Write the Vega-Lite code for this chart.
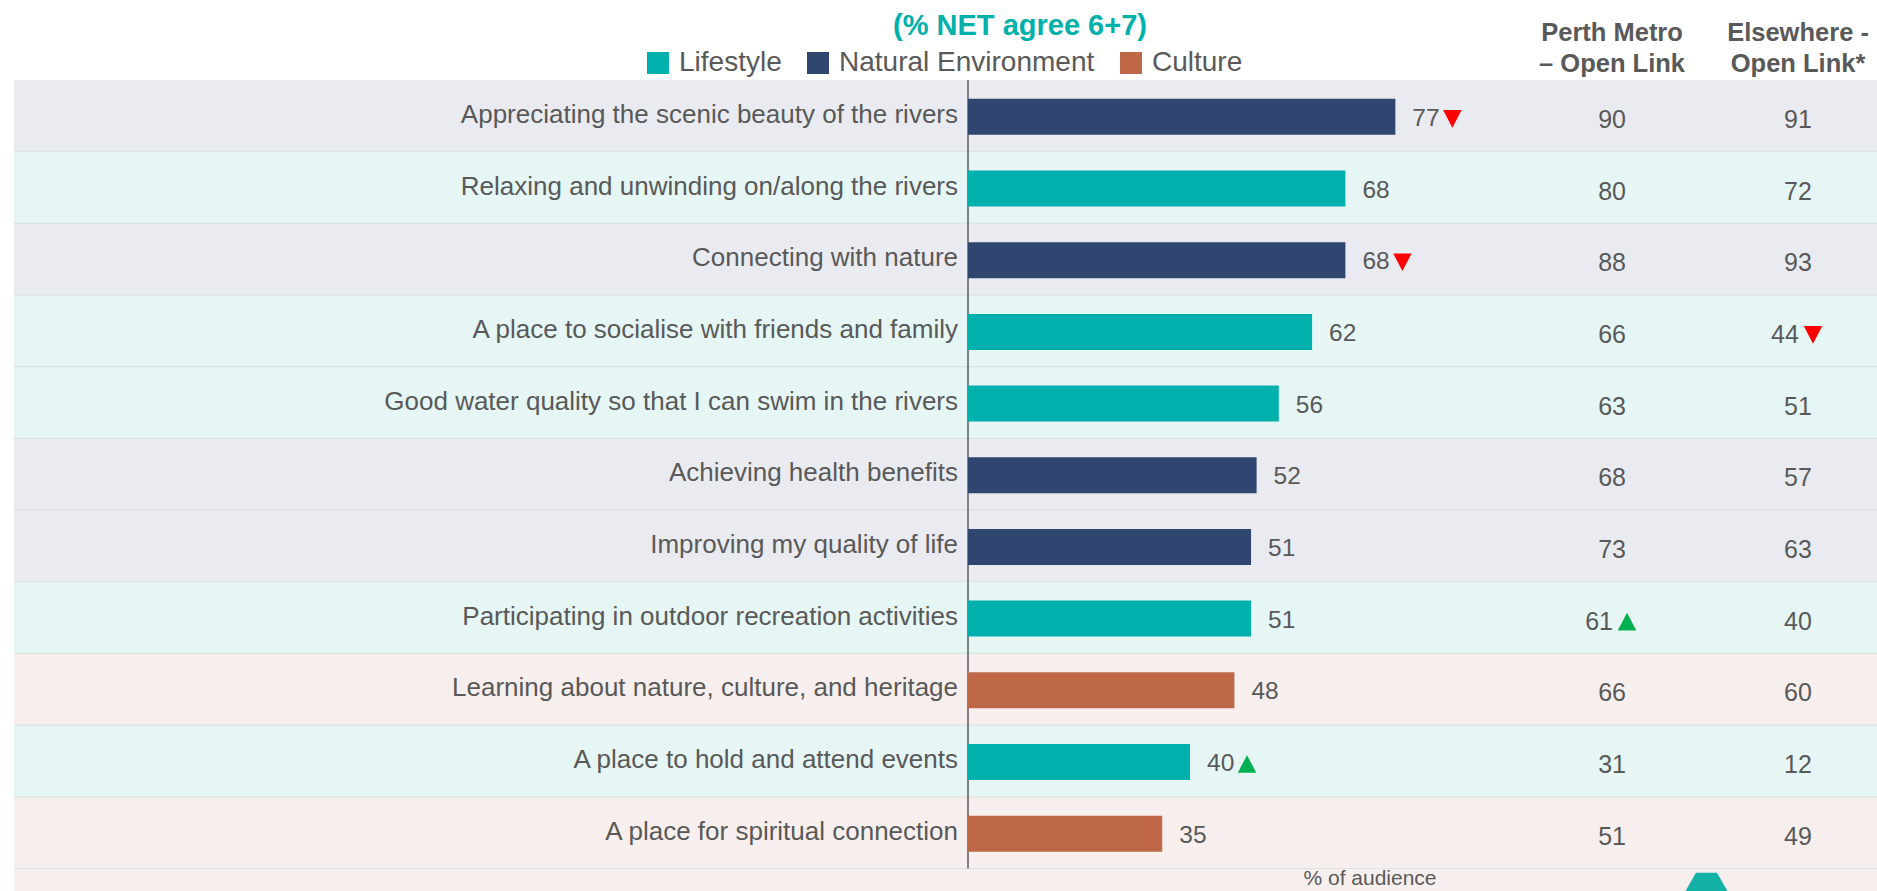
{
  "$schema": "https://vega.github.io/schema/vega-lite/v6.json",
  "width": 1877,
  "height": 891,
  "autosize": {"type": "none"},
  "padding": 0,
  "background": "#FFFFFF",
  "config": {"view": {"stroke": null}, "font": "Liberation Sans", "scale": {"continuousPadding": 0}},
  "datasets": {
    "rows": [
      {"row": 1, "label": "Appreciating the scenic beauty of the rivers", "group": "Natural Environment", "value": 77, "sig": "down", "perth": 90, "perth_sig": null, "elsewhere": 91, "elsewhere_sig": null},
      {"row": 2, "label": "Relaxing and unwinding on/along the rivers", "group": "Lifestyle", "value": 68, "sig": null, "perth": 80, "perth_sig": null, "elsewhere": 72, "elsewhere_sig": null},
      {"row": 3, "label": "Connecting with nature", "group": "Natural Environment", "value": 68, "sig": "down", "perth": 88, "perth_sig": null, "elsewhere": 93, "elsewhere_sig": null},
      {"row": 4, "label": "A place to socialise with friends and family", "group": "Lifestyle", "value": 62, "sig": null, "perth": 66, "perth_sig": null, "elsewhere": 44, "elsewhere_sig": "down"},
      {"row": 5, "label": "Good water quality so that I can swim in the rivers", "group": "Lifestyle", "value": 56, "sig": null, "perth": 63, "perth_sig": null, "elsewhere": 51, "elsewhere_sig": null},
      {"row": 6, "label": "Achieving health benefits", "group": "Natural Environment", "value": 52, "sig": null, "perth": 68, "perth_sig": null, "elsewhere": 57, "elsewhere_sig": null},
      {"row": 7, "label": "Improving my quality of life", "group": "Natural Environment", "value": 51, "sig": null, "perth": 73, "perth_sig": null, "elsewhere": 63, "elsewhere_sig": null},
      {"row": 8, "label": "Participating in outdoor recreation activities", "group": "Lifestyle", "value": 51, "sig": null, "perth": 61, "perth_sig": "up", "elsewhere": 40, "elsewhere_sig": null},
      {"row": 9, "label": "Learning about nature, culture, and heritage", "group": "Culture", "value": 48, "sig": null, "perth": 66, "perth_sig": null, "elsewhere": 60, "elsewhere_sig": null},
      {"row": 10, "label": "A place to hold and attend events", "group": "Lifestyle", "value": 40, "sig": "up", "perth": 31, "perth_sig": null, "elsewhere": 12, "elsewhere_sig": null},
      {"row": 11, "label": "A place for spiritual connection", "group": "Culture", "value": 35, "sig": null, "perth": 51, "perth_sig": null, "elsewhere": 49, "elsewhere_sig": null}
    ],
    "headers": [
      {"col": "perth", "header": "Perth Metro\n– Open Link"},
      {"col": "elsewhere", "header": "Elsewhere -\nOpen Link*"}
    ],
    "notes": [
      {"title": "(% NET agree 6+7)", "axisnote": "% of audience"}
    ]
  },
  "data": {"name": "rows"},
  "resolve": {"scale": {"color": "independent", "shape": "independent"}},
  "layer": [
    {
      "mark": {"type": "bar", "orient": "horizontal", "size": 71.7},
      "encoding": {
        "x": {"datum": -171.89, "type": "quantitative", "scale": {"domain": [-174.41, 163.78], "nice": false, "zero": false, "padding": 0}, "axis": null},
        "x2": {"datum": 163.78},
        "y": {"field": "row", "type": "quantitative", "scale": {"domain": [-0.6161, 11.8142], "reverse": true, "nice": false, "zero": false, "padding": 0}, "axis": null},
        "color": {"field": "group", "type": "nominal", "scale": {"domain": ["Lifestyle", "Natural Environment", "Culture"], "range": ["#E5F6F5", "#EAEBF0", "#F7EFED"]}, "legend": null}
      }
    },
    {
      "data": {"name": "notes"},
      "mark": {"type": "rect", "color": "#F7EFED"},
      "encoding": {
        "x": {"datum": -171.89, "type": "quantitative"},
        "x2": {"datum": 163.78},
        "y": {"datum": 11.5, "type": "quantitative"},
        "y2": {"datum": 11.8142}
      }
    },
    {
      "mark": {"type": "rule", "color": "#DCE3E3", "strokeWidth": 1.2, "yOffset": 35.84},
      "encoding": {
        "x": {"datum": -171.89, "type": "quantitative"},
        "x2": {"datum": 163.78},
        "y": {"field": "row", "type": "quantitative"}
      }
    },
    {
      "data": {"name": "notes"},
      "mark": {"type": "rule", "color": "#808080", "strokeWidth": 2},
      "encoding": {
        "x": {"datum": 0, "type": "quantitative"},
        "y": {"datum": 0.5, "type": "quantitative"},
        "y2": {"datum": 11.5}
      }
    },
    {
      "mark": {"type": "bar", "orient": "horizontal", "size": 36, "yOffset": 1},
      "encoding": {
        "x": {"field": "value", "type": "quantitative"},
        "x2": {"datum": 0},
        "y": {"field": "row", "type": "quantitative"},
        "color": {
          "field": "group", "type": "nominal",
          "scale": {"domain": ["Lifestyle", "Natural Environment", "Culture"], "range": ["#00B0AD", "#2F4770", "#BF6848"]},
          "legend": {"orient": "none", "legendX": 644, "legendY": 49, "direction": "horizontal", "title": null, "symbolType": "square", "symbolSize": 484, "symbolStrokeWidth": 0, "symbolOpacity": 1, "labelFontSize": 28, "labelFont": "Liberation Sans", "labelColor": "#595959", "labelOffset": 7, "columnPadding": 22, "padding": 0, "labelLimit": 500}
        }
      }
    },
    {
      "mark": {"type": "text", "align": "right", "baseline": "middle", "fontSize": 26, "color": "#595959", "font": "Liberation Sans", "dy": -1},
      "encoding": {
        "x": {"datum": -1.8, "type": "quantitative"},
        "y": {"field": "row", "type": "quantitative"},
        "text": {"field": "label", "type": "nominal"}
      }
    },
    {
      "mark": {"type": "text", "align": "left", "baseline": "middle", "fontSize": 24.5, "color": "#595959", "font": "Liberation Sans", "dx": 17, "dy": 3},
      "encoding": {
        "x": {"field": "value", "type": "quantitative"},
        "y": {"field": "row", "type": "quantitative"},
        "text": {"field": "value", "type": "quantitative"}
      }
    },
    {
      "transform": [{"filter": "isValid(datum.sig)"}],
      "mark": {"type": "point", "filled": true, "size": 342, "opacity": 1, "xOffset": 57, "yOffset": 3},
      "encoding": {
        "x": {"field": "value", "type": "quantitative"},
        "y": {"field": "row", "type": "quantitative"},
        "shape": {"field": "sig", "type": "nominal", "scale": {"domain": ["down", "up"], "range": ["M-1,-0.95L1,-0.95L0,0.95Z", "M-1,0.95L1,0.95L0,-0.95Z"]}, "legend": null},
        "color": {"field": "sig", "type": "nominal", "scale": {"domain": ["down", "up"], "range": ["#FF0000", "#00B050"]}, "legend": null}
      }
    },
    {
      "transform": [{"filter": "!isValid(datum.perth_sig)"}],
      "mark": {"type": "text", "align": "center", "baseline": "middle", "fontSize": 25, "color": "#595959", "font": "Liberation Sans", "dy": 4},
      "encoding": {
        "x": {"datum": 116.04, "type": "quantitative"},
        "y": {"field": "row", "type": "quantitative"},
        "text": {"field": "perth", "type": "quantitative"}
      }
    },
    {
      "transform": [{"filter": "isValid(datum.perth_sig)"}],
      "mark": {"type": "text", "align": "center", "baseline": "middle", "fontSize": 25, "color": "#595959", "font": "Liberation Sans", "dy": 4, "dx": -13},
      "encoding": {
        "x": {"datum": 116.04, "type": "quantitative"},
        "y": {"field": "row", "type": "quantitative"},
        "text": {"field": "perth", "type": "quantitative"}
      }
    },
    {
      "transform": [{"filter": "isValid(datum.perth_sig)"}],
      "mark": {"type": "point", "filled": true, "size": 342, "opacity": 1, "xOffset": 15, "yOffset": 4},
      "encoding": {
        "x": {"datum": 116.04, "type": "quantitative"},
        "y": {"field": "row", "type": "quantitative"},
        "shape": {"field": "perth_sig", "type": "nominal", "scale": {"domain": ["down", "up"], "range": ["M-1,-0.95L1,-0.95L0,0.95Z", "M-1,0.95L1,0.95L0,-0.95Z"]}, "legend": null},
        "color": {"field": "perth_sig", "type": "nominal", "scale": {"domain": ["down", "up"], "range": ["#FF0000", "#00B050"]}, "legend": null}
      }
    },
    {
      "transform": [{"filter": "!isValid(datum.elsewhere_sig)"}],
      "mark": {"type": "text", "align": "center", "baseline": "middle", "fontSize": 25, "color": "#595959", "font": "Liberation Sans", "dy": 4},
      "encoding": {
        "x": {"datum": 149.55, "type": "quantitative"},
        "y": {"field": "row", "type": "quantitative"},
        "text": {"field": "elsewhere", "type": "quantitative"}
      }
    },
    {
      "transform": [{"filter": "isValid(datum.elsewhere_sig)"}],
      "mark": {"type": "text", "align": "center", "baseline": "middle", "fontSize": 25, "color": "#595959", "font": "Liberation Sans", "dy": 4, "dx": -13},
      "encoding": {
        "x": {"datum": 149.55, "type": "quantitative"},
        "y": {"field": "row", "type": "quantitative"},
        "text": {"field": "elsewhere", "type": "quantitative"}
      }
    },
    {
      "transform": [{"filter": "isValid(datum.elsewhere_sig)"}],
      "mark": {"type": "point", "filled": true, "size": 342, "opacity": 1, "xOffset": 15, "yOffset": 4},
      "encoding": {
        "x": {"datum": 149.55, "type": "quantitative"},
        "y": {"field": "row", "type": "quantitative"},
        "shape": {"field": "elsewhere_sig", "type": "nominal", "scale": {"domain": ["down", "up"], "range": ["M-1,-0.95L1,-0.95L0,0.95Z", "M-1,0.95L1,0.95L0,-0.95Z"]}, "legend": null},
        "color": {"field": "elsewhere_sig", "type": "nominal", "scale": {"domain": ["down", "up"], "range": ["#FF0000", "#00B050"]}, "legend": null}
      }
    },
    {
      "data": {"name": "headers"},
      "transform": [{"filter": "datum.col == 'perth'"}],
      "mark": {"type": "text", "align": "center", "baseline": "alphabetic", "fontSize": 25.5, "fontWeight": "bold", "color": "#595959", "font": "Liberation Sans", "lineBreak": "\n", "lineHeight": 30.5},
      "encoding": {
        "x": {"datum": 116.04, "type": "quantitative"},
        "y": {"datum": -0.0441, "type": "quantitative"},
        "text": {"field": "header", "type": "nominal"}
      }
    },
    {
      "data": {"name": "headers"},
      "transform": [{"filter": "datum.col == 'elsewhere'"}],
      "mark": {"type": "text", "align": "center", "baseline": "alphabetic", "fontSize": 25.5, "fontWeight": "bold", "color": "#595959", "font": "Liberation Sans", "lineBreak": "\n", "lineHeight": 30.5},
      "encoding": {
        "x": {"datum": 149.55, "type": "quantitative"},
        "y": {"datum": -0.0441, "type": "quantitative"},
        "text": {"field": "header", "type": "nominal"}
      }
    },
    {
      "data": {"name": "notes"},
      "mark": {"type": "text", "align": "center", "baseline": "alphabetic", "fontSize": 29, "fontWeight": "bold", "color": "#00B0AA", "font": "Liberation Sans"},
      "encoding": {
        "x": {"datum": 9.37, "type": "quantitative"},
        "y": {"datum": -0.1272, "type": "quantitative"},
        "text": {"field": "title", "type": "nominal"}
      }
    },
    {
      "data": {"name": "notes"},
      "mark": {"type": "text", "align": "center", "baseline": "alphabetic", "fontSize": 21, "color": "#595959", "font": "Liberation Sans"},
      "encoding": {
        "x": {"datum": 72.43, "type": "quantitative"},
        "y": {"datum": 11.73, "type": "quantitative"},
        "text": {"field": "axisnote", "type": "nominal"}
      }
    },
    {
      "data": {"name": "notes"},
      "mark": {"type": "point", "filled": true, "opacity": 1, "size": 1764, "color": "#13B1A6", "shape": "M-0.5,-0.866L0.5,-0.866L1,0L0.5,0.866L-0.5,0.866L-1,0Z"},
      "encoding": {
        "x": {"datum": 133.06, "type": "quantitative"},
        "y": {"datum": 11.8142, "type": "quantitative"}
      }
    }
  ]
}
